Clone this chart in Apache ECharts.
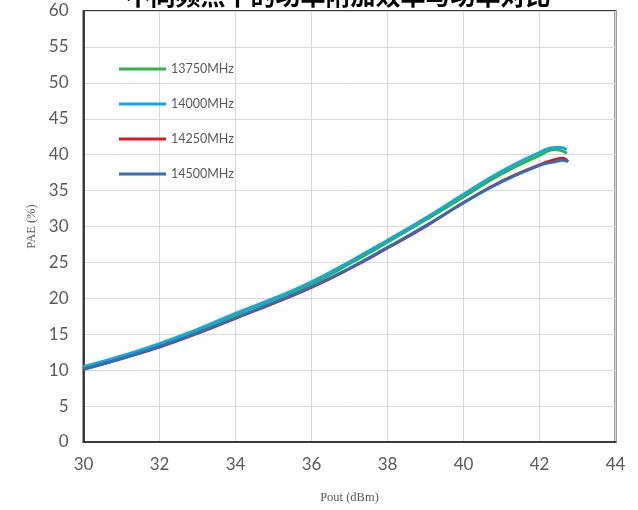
<!DOCTYPE html>
<html>
<head>
<meta charset="utf-8">
<script src="https://cdn.jsdelivr.net/npm/echarts@6/dist/echarts.min.js"></script>
<style>
  html, body { margin: 0; padding: 0; background: #fff; }
  #chart { width: 638px; height: 510px; }
</style>
</head>
<body>
<div id="chart"></div>
<script>
// Output power sweep points (dBm) for each frequency
const pout13750 = [30, 31, 32, 33, 34, 35, 36, 37, 38, 39, 40, 41, 42, 42.4, 42.55, 42.72];
const pae13750  = [10.4, 11.9, 13.5, 15.5, 17.7, 19.8, 22.0, 24.8, 27.8, 30.9, 34.1, 37.3, 39.9, 40.7, 40.6, 40.2];

const pout14000 = [30, 31, 32, 33, 34, 35, 36, 37, 38, 39, 40, 41, 42, 42.4, 42.55, 42.72];
const pae14000  = [10.5, 12.0, 13.7, 15.7, 17.9, 20.0, 22.3, 25.1, 28.1, 31.2, 34.5, 37.7, 40.3, 41.0, 41.0, 40.7];

const pout14250 = [30, 31, 32, 33, 34, 35, 36, 37, 38, 39, 40, 41, 42, 42.4, 42.6, 42.75];
const pae14250  = [10.1, 11.6, 13.2, 15.1, 17.2, 19.3, 21.5, 24.1, 27.0, 30.0, 33.3, 36.3, 38.6, 39.3, 39.5, 39.0];

const pout14500 = [30, 31, 32, 33, 34, 35, 36, 37, 38, 39, 40, 41, 42, 42.4, 42.6, 42.75];
const pae14500  = [10.1, 11.6, 13.3, 15.2, 17.3, 19.4, 21.6, 24.2, 27.1, 30.1, 33.3, 36.2, 38.5, 39.0, 39.2, 39.0];

const seriesNames = ['13750MHz', '14000MHz', '14250MHz', '14500MHz'];
const seriesColors = ['#2fb24c', '#14a8e0', '#e3151c', '#2e6fb8'];

const titleText = '不同频点下的功率附加效率与功率对比';
const xAxisName = 'Pout (dBm)';
const yAxisName = 'PAE (%)';

function pairs(xs, ys) {
  return xs.map((x, i) => [x, ys[i]]);
}

const seriesData = [
  pairs(pout13750, pae13750),
  pairs(pout14000, pae14000),
  pairs(pout14250, pae14250),
  pairs(pout14500, pae14500)
];

const chart = echarts.init(document.getElementById('chart'));

chart.setOption({
  backgroundColor: '#ffffff',
  animation: false,
  title: {
    text: titleText,
    left: 333,
    top: -22,
    textAlign: 'center',
    textStyle: {
      fontFamily: 'Noto Sans CJK SC',
      fontSize: 25,
      fontWeight: 'bold',
      color: '#000000'
    }
  },
  legend: {
    orient: 'vertical',
    left: 114,
    top: 57,
    icon: 'rect',
    itemWidth: 47,
    itemHeight: 3,
    itemGap: 21,
    data: seriesNames,
    textStyle: {
      fontFamily: 'Lato',
      fontSize: 12.5,
      lineHeight: 14,
      color: '#595959'
    }
  },
  grid: {
    left: 83.5,
    right: 22.5,
    top: 11,
    bottom: 68,
    show: true,
    borderColor: '#3a3a3a',
    borderWidth: 2,
    containLabel: false
  },
  xAxis: {
    type: 'value',
    min: 30,
    max: 44,
    interval: 2,
    name: xAxisName,
    nameLocation: 'middle',
    nameGap: 49,
    nameTextStyle: {
      fontFamily: 'Liberation Serif',
      fontSize: 12.5,
      color: '#595959'
    },
    axisLine: { show: true, lineStyle: { color: '#3a3a3a', width: 2 } },
    axisTick: { show: false },
    axisLabel: {
      margin: 14,
      fontFamily: 'Lato',
      fontSize: 17,
      color: '#595959'
    },
    splitLine: { show: true, lineStyle: { color: '#d9d9d9', width: 1 } }
  },
  yAxis: {
    type: 'value',
    min: 0,
    max: 60,
    interval: 5,
    name: yAxisName,
    nameLocation: 'middle',
    nameGap: 45,
    nameTextStyle: {
      fontFamily: 'Liberation Serif',
      fontSize: 12.5,
      color: '#595959'
    },
    axisLine: { show: true, lineStyle: { color: '#3a3a3a', width: 2 } },
    axisTick: { show: false },
    axisLabel: {
      margin: 15,
      fontFamily: 'Lato',
      fontSize: 17,
      color: '#595959'
    },
    splitLine: { show: true, lineStyle: { color: '#d9d9d9', width: 1 } }
  },
  series: seriesNames.map((name, i) => ({
    name: name,
    type: 'line',
    data: seriesData[i],
    smooth: true,
    showSymbol: false,
    symbol: 'none',
    color: seriesColors[i],
    lineStyle: { width: 2.8, color: seriesColors[i] }
  }))
});
</script>
</body>
</html>
